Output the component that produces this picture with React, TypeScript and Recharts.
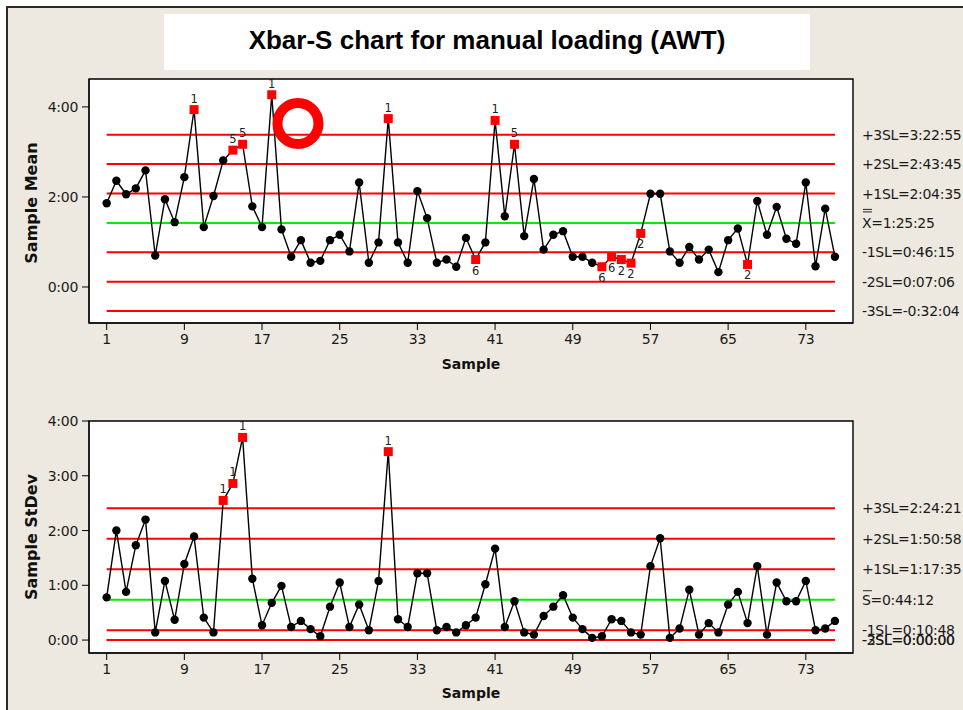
import React from "react";
import {
  LineChart,
  Line,
  XAxis,
  YAxis,
  ReferenceLine,
  ReferenceDot,
  ReferenceArea,
  CartesianGrid,
} from "recharts";

// Subgroup means and standard deviations, in hours
const sampleMeans = [
  1.86, 2.36, 2.06, 2.19, 2.59, 0.7, 1.95, 1.44, 2.44, 3.94,
  1.33, 2.02, 2.81, 3.04, 3.17, 1.79, 1.33, 4.27, 1.28, 0.67,
  1.04, 0.54, 0.58, 1.04, 1.16, 0.79, 2.32, 0.54, 0.99, 3.74,
  0.99, 0.54, 2.13, 1.53, 0.54, 0.61, 0.45, 1.09, 0.61, 0.99,
  3.7, 1.57, 3.17, 1.13, 2.4, 0.83, 1.16, 1.24, 0.67, 0.67,
  0.54, 0.45, 0.67, 0.61, 0.53, 1.19, 2.07, 2.07, 0.79, 0.54,
  0.89, 0.61, 0.83, 0.33, 1.04, 1.3, 0.5, 1.91, 1.16, 1.78,
  1.07, 0.96, 2.32, 0.46, 1.74, 0.67,
];

const sampleStdevs = [
  0.78, 2.0, 0.88, 1.73, 2.2, 0.14, 1.08, 0.37, 1.39, 1.89,
  0.41, 0.14, 2.55, 2.86, 3.7, 1.12, 0.27, 0.68, 0.99, 0.24,
  0.35, 0.2, 0.07, 0.61, 1.05, 0.24, 0.65, 0.18, 1.08, 3.44,
  0.38, 0.24, 1.22, 1.22, 0.18, 0.24, 0.14, 0.27, 0.41, 1.02,
  1.67, 0.24, 0.71, 0.14, 0.1, 0.44, 0.61, 0.82, 0.41, 0.2,
  0.04, 0.07, 0.38, 0.35, 0.14, 0.1, 1.35, 1.86, 0.04, 0.21,
  0.92, 0.1, 0.31, 0.14, 0.65, 0.88, 0.31, 1.35, 0.1, 1.05,
  0.71, 0.71, 1.08, 0.18, 0.21, 0.35,
];

// Failed test number per sample
const meanFlags: Record<number, string> = {
  10: "1", 14: "5", 15: "5", 18: "1", 30: "1", 39: "6", 41: "1",
  43: "5", 52: "6", 53: "6", 54: "2", 55: "2", 56: "2", 67: "2",
};
const stdevFlags: Record<number, string> = { 13: "1", 14: "1", 15: "1", 30: "1" };

type Limit = { name: string; text: string; bars?: number; center?: boolean };

const meanLimits: Limit[] = [
  { name: "+3SL", text: "3:22:55" },
  { name: "+2SL", text: "2:43:45" },
  { name: "+1SL", text: "2:04:35" },
  { name: "X", text: "1:25:25", bars: 2, center: true },
  { name: "-1SL", text: "0:46:15" },
  { name: "-2SL", text: "0:07:06" },
  { name: "-3SL", text: "-0:32:04" },
];

const stdevLimits: Limit[] = [
  { name: "+3SL", text: "2:24:21" },
  { name: "+2SL", text: "1:50:58" },
  { name: "+1SL", text: "1:17:35" },
  { name: "S", text: "0:44:12", bars: 1, center: true },
  { name: "-1SL", text: "0:10:48" },
  { name: "-2SL", text: "0:00:00" },
  { name: "-3SL", text: "0:00:00" },
];

const sampleTicks = [1, 9, 17, 25, 33, 41, 49, 57, 65, 73];
const meanTicks = [0, 2, 4];
const stdevTicks = [0, 1, 2, 3, 4];

// highlighted region on the mean chart
const markerSample = 20.7;
const markerHours = 3.63;

const X_DOMAIN: [number, number] = [-0.82, 77.86];
const FONT = "'DejaVu Sans', Verdana, sans-serif";

const toHours = (t: string) => {
  const neg = t.startsWith("-");
  const [h, m, s] = t.replace("-", "").split(":").map(Number);
  const v = h + m / 60 + s / 3600;
  return neg ? -v : v;
};

const fmtHM = (v: number) => {
  const h = Math.floor(v);
  const m = Math.round((v - h) * 60);
  return `${h}:${String(m).padStart(2, "0")}`;
};

const meanData = sampleMeans.map((value, i) => ({ sample: i + 1, value }));
const stdevData = sampleStdevs.map((value, i) => ({ sample: i + 1, value }));

const makeDot = (flags: Record<number, string>, center: number) => (props: any) => {
  const { cx, cy, index, payload } = props;
  const flag = flags[payload.sample];
  if (!flag) {
    return <circle key={`d-${index}`} cx={cx} cy={cy} r={4.2} fill="#000" />;
  }
  const below = payload.value < center;
  return (
    <g key={`d-${index}`}>
      <rect x={cx - 4.5} y={cy - 4.5} width={9} height={9} fill="#FF0000" />
      <text
        x={cx}
        y={below ? cy + 15 : cy - 7}
        textAnchor="middle"
        fontSize={11.5}
        fontFamily={FONT}
        fill="#222"
      >
        {flag}
      </text>
    </g>
  );
};

const limitLabel = (lim: Limit) => (props: any) => {
  const vb = props.viewBox || {};
  const x = (vb.x ?? 0) + (vb.width ?? 0) + 27;
  const y = (vb.y ?? 0) + (vb.height ?? 0) / 2;
  const bars = lim.bars ?? 0;
  const gaps = bars === 2 ? [-13.5, -11] : bars === 1 ? [-9] : [];
  return (
    <g>
      {gaps.map((d, i) => (
        <line key={i} x1={x + 1} x2={x + 10} y1={y + d} y2={y + d} stroke="#222" strokeWidth={1} />
      ))}
      <text
        x={x}
        y={y}
        dominantBaseline="central"
        fontSize={14}
        letterSpacing={-0.3}
        fontFamily={FONT}
        fill="#1a1a1a"
      >
        {`${lim.name}=${lim.text}`}
      </text>
    </g>
  );
};

const tickStyle = { fill: "#1a1a1a", fontSize: 14, fontFamily: FONT, letterSpacing: -0.3 };

interface PanelProps {
  data: { sample: number; value: number }[];
  limits: Limit[];
  flags: Record<number, string>;
  yDomain: [number, number];
  yTicks: number[];
  height: number;
  top: number;
  children?: React.ReactNode;
}

const ControlPanel: React.FC<PanelProps> = ({ data, limits, flags, yDomain, yTicks, height, top, children }) => {
  const center = toHours(limits.find((l) => l.center)!.text);
  return (
    <LineChart
      width={963}
      height={height}
      data={data}
      margin={{ top, right: 110, bottom: 10, left: 29 }}
    >
      <CartesianGrid horizontal={false} vertical={false} fill="#ffffff" />
      <XAxis
        dataKey="sample"
        type="number"
        domain={X_DOMAIN}
        allowDataOverflow
        ticks={sampleTicks}
        interval={0}
        height={47}
        tickSize={7}
        tickMargin={4}
        stroke="#000"
        tick={tickStyle}
      />
      <YAxis
        type="number"
        domain={yDomain}
        allowDataOverflow
        ticks={yTicks}
        interval={0}
        width={60}
        tickSize={7}
        tickMargin={4}
        tickFormatter={fmtHM}
        stroke="#000"
        tick={tickStyle}
      />
      {/* plot frame */}
      <ReferenceArea
        x1={X_DOMAIN[0]}
        x2={X_DOMAIN[1]}
        y1={yDomain[0]}
        y2={yDomain[1]}
        fill="none"
        fillOpacity={0}
        stroke="#000"
        strokeWidth={1.4}
        strokeOpacity={1}
      />
      {limits.map((lim) => {
        const v = toHours(lim.text);
        return (
          <ReferenceLine
            key={lim.name}
            segment={[
              { x: 1, y: v },
              { x: data.length, y: v },
            ]}
            stroke={lim.center ? "#00EE00" : "#FF0000"}
            strokeWidth={2}
            label={limitLabel(lim)}
          />
        );
      })}
      <Line
        dataKey="value"
        stroke="#000"
        strokeWidth={1.4}
        dot={makeDot(flags, center)}
        activeDot={false}
        isAnimationActive={false}
      />
      {children}
    </LineChart>
  );
};

const axisTitle: React.CSSProperties = {
  position: "absolute",
  fontFamily: FONT,
  fontWeight: "bold",
  color: "#111",
  whiteSpace: "nowrap",
  transform: "translate(-50%, -50%)",
};

const App: React.FC = () => {
  return (
    <div style={{ position: "absolute", left: 0, top: 0, width: 963, height: 710, background: "#fff", overflow: "hidden" }}>
      <div
        style={{
          position: "absolute",
          left: 6,
          top: 6,
          width: 980,
          height: 720,
          background: "#EDE9E0",
          borderLeft: "2px solid #2a2a2a",
          borderTop: "2px solid #2a2a2a",
        }}
      />
      <div
        style={{
          position: "absolute",
          left: 164,
          top: 14,
          width: 646,
          height: 56,
          background: "#fff",
          display: "flex",
          alignItems: "center",
          justifyContent: "center",
          paddingBottom: 4,
          boxSizing: "border-box",
          fontFamily: "'Liberation Sans', Arial, sans-serif",
          fontWeight: "bold",
          fontSize: 26,
          color: "#000",
        }}
      >
        Xbar-S chart for manual loading (AWT)
      </div>

      <div style={{ position: "absolute", left: 0, top: 0 }}>
        <ControlPanel
          data={meanData}
          limits={meanLimits}
          flags={meanFlags}
          yDomain={[-0.8, 4.62]}
          yTicks={meanTicks}
          height={380}
          top={79}
        >
          <ReferenceDot
            x={markerSample}
            y={markerHours}
            r={20.5}
            fill="none"
            stroke="#FF0000"
            strokeWidth={10}
          />
        </ControlPanel>
      </div>
      <div style={{ position: "absolute", left: 0, top: 380 }}>
        <ControlPanel
          data={stdevData}
          limits={stdevLimits}
          flags={stdevFlags}
          yDomain={[-0.236, 4]}
          yTicks={stdevTicks}
          height={330}
          top={41}
        />
      </div>

      <div style={{ ...axisTitle, left: 471, top: 364, fontSize: 14 }}>Sample</div>
      <div style={{ ...axisTitle, left: 471, top: 693, fontSize: 14 }}>Sample</div>
      <div style={{ ...axisTitle, left: 31, top: 203, fontSize: 16, transform: "translate(-50%, -50%) rotate(-90deg)" }}>
        Sample Mean
      </div>
      <div style={{ ...axisTitle, left: 31, top: 537, fontSize: 16, transform: "translate(-50%, -50%) rotate(-90deg)" }}>
        Sample StDev
      </div>
    </div>
  );
};

export default App;
